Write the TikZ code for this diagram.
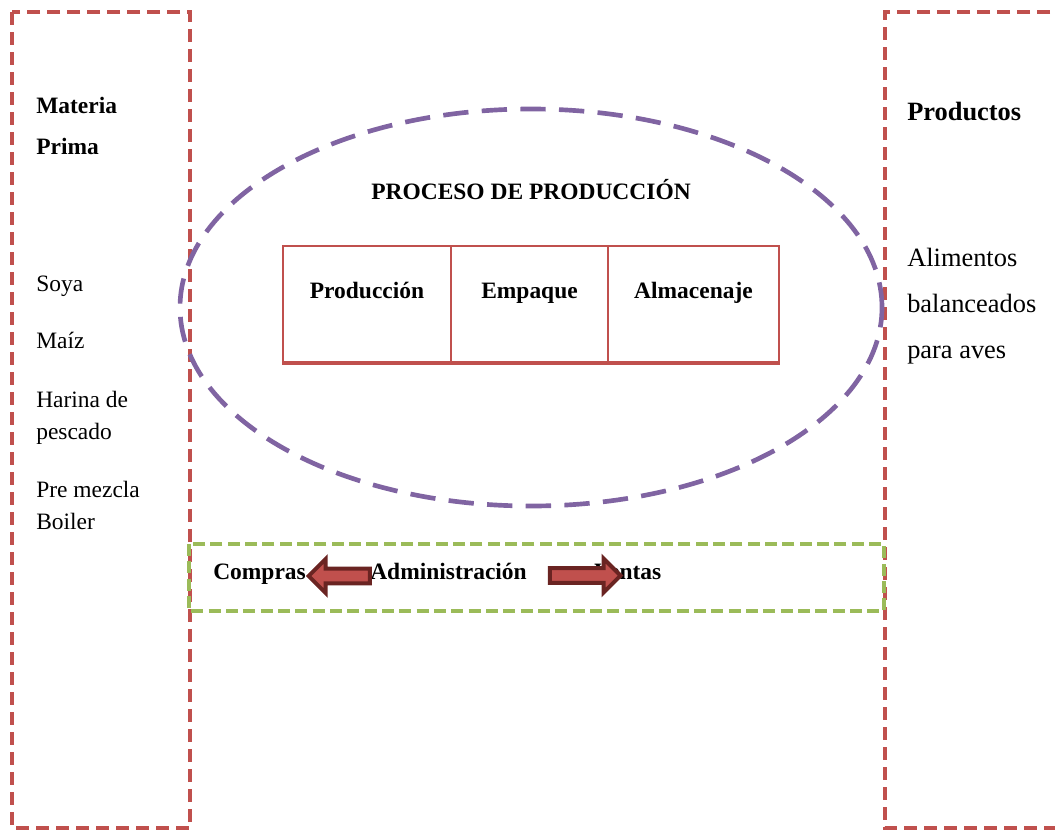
\documentclass[tikz,border=0pt]{standalone}
\usepackage{fontspec}
\setmainfont{Liberation Serif}
\usetikzlibrary{shapes.geometric,shapes.arrows}
\definecolor{boxred}{HTML}{C0504D}
\definecolor{ovalpurple}{HTML}{8064A2}
\definecolor{bandgreen}{HTML}{9BBB59}
\definecolor{arrowdark}{HTML}{6A2422}
\begin{document}
\begin{tikzpicture}[x=0.75pt, y=-0.75pt,
    txt/.style={anchor=base west, inner sep=0pt, font=\fontsize{17.6}{20}\selectfont},
    bigtxt/.style={anchor=base west, inner sep=0pt, font=\fontsize{19.8}{22}\selectfont},
    redframe/.style={draw=boxred, line width=3pt, dash pattern=on 10pt off 5pt},
    greenband/.style={draw=bandgreen, line width=3pt, dash pattern=on 9pt off 4pt},
    oval/.style={ellipse, draw=ovalpurple, line width=3.5pt, dash pattern=on 19pt off 10pt, inner sep=0pt},
    cell/.style={rectangle, draw=boxred, line width=1.5pt, minimum height=87pt, inner sep=0pt},
    blockarrow/.style={single arrow, fill=boxred, draw=arrowdark, line width=3pt, inner xsep=0pt, inner ysep=4.1pt, single arrow head extend=7.1pt}]
        \useasboundingbox (0,0) rectangle (1055,832);
        \draw[redframe] (12,12) rectangle (190,828);
        \draw[redframe] (1070,12) -- (885,12) -- (885,828) -- (1070,828);
        \node[oval, minimum width=526.5pt, minimum height=297.75pt] at (531,307.5) (proceso) {};
        \draw[greenband] (189,544) rectangle (884,611);
        \node[cell, minimum width=126pt] at (367,304) (prodcell) {};
        \node[cell, minimum width=117.75pt] at (529.5,304) (empcell) {};
        \node[cell, minimum width=128.25pt] at (693.5,304) (almcell) {};
        \draw[boxred, line width=3pt] (prodcell.south west) -- (almcell.south east);
        \node[txt, anchor=base, font=\fontsize{17.6}{20}\selectfont\bfseries] at (531,199) (titulo) {PROCESO DE PRODUCCIÓN};
        \node[txt, anchor=base, font=\fontsize{17.6}{20}\selectfont\bfseries] at (367,298) (produccion) {Producción};
        \node[txt, anchor=base, font=\fontsize{17.6}{20}\selectfont\bfseries] at (529.5,298) (empaque) {Empaque};
        \node[txt, anchor=base, font=\fontsize{17.6}{20}\selectfont\bfseries] at (693.5,298) (almacenaje) {Almacenaje};
        \node[txt, font=\fontsize{17.6}{20}\selectfont\bfseries] at (36,113) (materia) {Materia};
        \node[txt, font=\fontsize{17.6}{20}\selectfont\bfseries] at (36,154) (prima) {Prima};
        \node[txt] at (36,291) (soya) {Soya};
        \node[txt] at (36,348) (maiz) {Maíz};
        \node[txt] at (36,407) (harina) {Harina de};
        \node[txt] at (36,439) (pescado) {pescado};
        \node[txt] at (36,497) (premezcla) {Pre mezcla};
        \node[txt] at (36,529) (boiler) {Boiler};
        \node[bigtxt, font=\fontsize{19.8}{22}\selectfont\bfseries] at (907,120) (productos) {Productos};
        \node[bigtxt] at (907,266) (alimentos) {Alimentos};
        \node[bigtxt] at (907,312) (balanceados) {balanceados};
        \node[bigtxt] at (907,358) (aves) {para aves};
        \node[txt, font=\fontsize{17.6}{20}\selectfont\bfseries] at (213,579) (compras) {Compras};
        \node[txt, font=\fontsize{17.6}{20}\selectfont\bfseries] at (370,579) (admin) {Administración};
        \node[txt, font=\fontsize{17.6}{20}\selectfont\bfseries] at (594,579) (ventas) {Ventas};
        \node[blockarrow, shape border rotate=180, minimum height=46pt] at (343,576) (haciacompras) {};
        \node[blockarrow, minimum height=53pt] at (581.5,575.5) (haciaventas) {};
    \end{tikzpicture}
\end{document}
